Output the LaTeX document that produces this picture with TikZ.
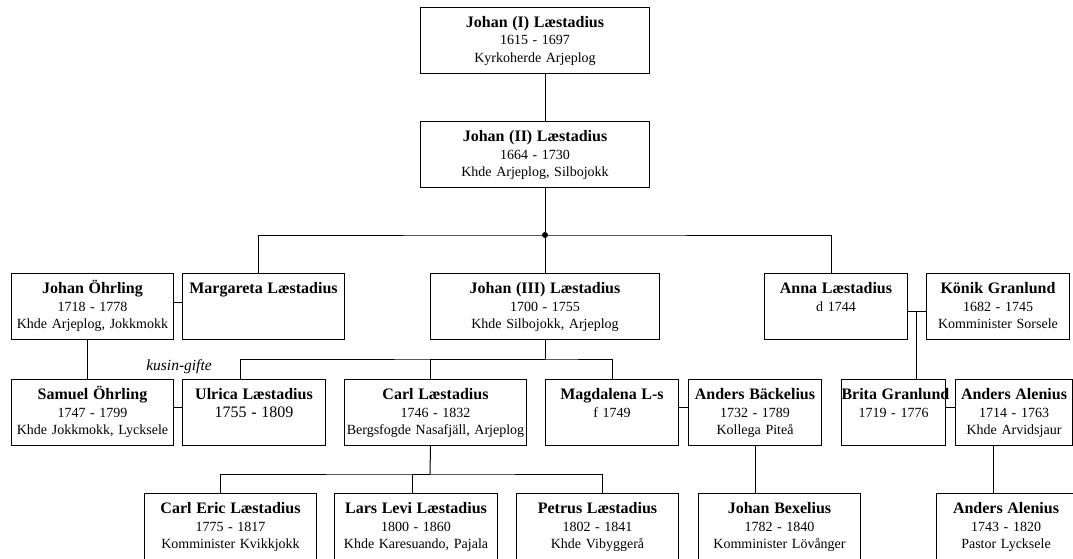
\documentclass[tikz,border=0pt]{standalone}
\usepackage{fontspec}
\setmainfont{Liberation Serif}
\usetikzlibrary{calc}
\newcommand{\pname}[1]{\mbox{\fontsize{16}{17.5}\selectfont\bfseries #1}}

\begin{document}
\begin{tikzpicture}[x=1pt,y=-1pt,line width=1pt,
    person/.style={draw,anchor=north west,inner xsep=0pt,inner ysep=4pt,
      align=center,text height=16pt,text depth=42pt,
      font=\fontsize{14}{17.5}\selectfont},
    cutoff/.style={text depth=44pt}]
      \useasboundingbox (0,0) rectangle (1073,559);
      % generations
      \node[person,text width=229pt] (j1) at (420,7) {\pname{Johan (I) Læstadius}\\1615 - 1697\\Kyrkoherde Arjeplog};
      \node[person,text width=229pt] (j2) at (420,121) {\pname{Johan (II) Læstadius}\\1664 - 1730\\Khde Arjeplog, Silbojokk};
      \node[person,text width=162pt] (johano) at (11,273) {\pname{Johan Öhrling}\\1718 - 1778\\Khde Arjeplog, Jokkmokk};
      \node[person,text width=162pt] (marg) at (182,273) {\pname{Margareta Læstadius}};
      \node[person,text width=229pt] (j3) at (430,273) {\pname{Johan (III) Læstadius}\\1700 - 1755\\Khde Silbojokk, Arjeplog};
      \node[person,text width=143pt] (anna) at (764,273) {\pname{Anna Læstadius}\\d 1744};
      \node[person,text width=143pt] (konik) at (926,273) {\pname{Könik Granlund}\\1682 - 1745\\Komminister Sorsele};
      \node[person,text width=162pt] (samuel) at (11,379) {\pname{Samuel Öhrling}\\1747 - 1799\\Khde Jokkmokk, Lycksele};
      \node[person,text width=143pt] (ulrica) at (182,379) {\pname{Ulrica Læstadius}\\{\fontsize{16}{17.5}\selectfont 1755 - 1809}};
      \node[person,text width=182pt] (carl) at (344,379) {\pname{Carl Læstadius}\\1746 - 1832\\Bergsfogde Nasafjäll, Arjeplog};
      \node[person,text width=133pt] (magda) at (545,379) {\pname{Magdalena L-s}\\f 1749};
      \node[person,text width=133pt] (andersb) at (688,379) {\pname{Anders Bäckelius}\\1732 - 1789\\Kollega Piteå};
      \node[person,text width=104pt] (brita) at (841,379) {\pname{Brita Granlund}\\1719 - 1776};
      \node[person,text width=117pt] (alenius) at (955,379) {\pname{Anders Alenius}\\1714 - 1763\\Khde Arvidsjaur};
      \node[person,cutoff,text width=172pt] (ceric) at (144,493) {\pname{Carl Eric Læstadius}\\1775 - 1817\\Komminister Kvikkjokk};
      \node[person,cutoff,text width=163pt] (larsl) at (334,493) {\pname{Lars Levi Læstadius}\\1800 - 1860\\Khde Karesuando, Pajala};
      \node[person,cutoff,text width=162pt] (petrus) at (516,493) {\pname{Petrus Læstadius}\\1802 - 1841\\Khde Vibyggerå};
      \node[person,cutoff,text width=162pt] (bexelius) at (698,493) {\pname{Johan Bexelius}\\1782 - 1840\\Komminister Lövånger};
      \node[person,cutoff,text width=139pt] (alenius2) at (936,493) {\pname{Anders Alenius}\\1743 - 1820\\Pastor Lycksele};
      \node[font=\fontsize{15.5}{17}\selectfont\itshape] (kusin) at (179,367) {kusin-gifte};

      \coordinate (fork) at (545,235);
      \coordinate (fork3) at (545,359);
      \coordinate (fork4) at (430,474);
      \coordinate (ak) at (916.5,311.5);

      \draw (j1.south -| fork) -- (j2.north -| fork);
      \draw (j2.south -| fork) -- (fork);
      \fill (fork) circle (3pt);
      \draw ([xshift=-5pt]marg.north) |- (fork) -| ([xshift=-4.5pt]anna.north);
      \draw (fork) -- (j3.north);
      % marriages
      \draw ([yshift=4.5pt]johano.east) -- ([yshift=4.5pt]marg.west);
      \draw ([yshift=-5pt]anna.east) -- ([yshift=-5pt]konik.west);
      \draw ([yshift=5pt]samuel.east) -- ([yshift=5pt]ulrica.west);
      \draw ([yshift=5pt]magda.east) -- ([yshift=5pt]andersb.west);
      \draw ([yshift=5pt]brita.east) -- ([yshift=5pt]alenius.west);
      % children
      \draw ([xshift=-5pt]johano.south) -- ([xshift=-5pt]samuel.north);
      \draw (j3.south) -- (fork3);
      \draw ([xshift=-14pt]ulrica.north) |- (fork3) -| (magda.north);
      \draw ([xshift=-5pt]carl.north) |- (fork3);
      \draw (ak) -- (ak |- brita.north);
      \draw ([xshift=-5pt]carl.south) -- (fork4);
      \draw ([xshift=-10pt]ceric.north) |- (fork4) -| ([xshift=5pt]petrus.north);
      \draw ([xshift=-3.5pt]larsl.north) |- (fork4);
      \draw (andersb.south) -- (andersb.south |- bexelius.north);
      \draw ([xshift=-20.5pt]alenius.south) -- ++(0,48);
\end{tikzpicture}
\end{document}
